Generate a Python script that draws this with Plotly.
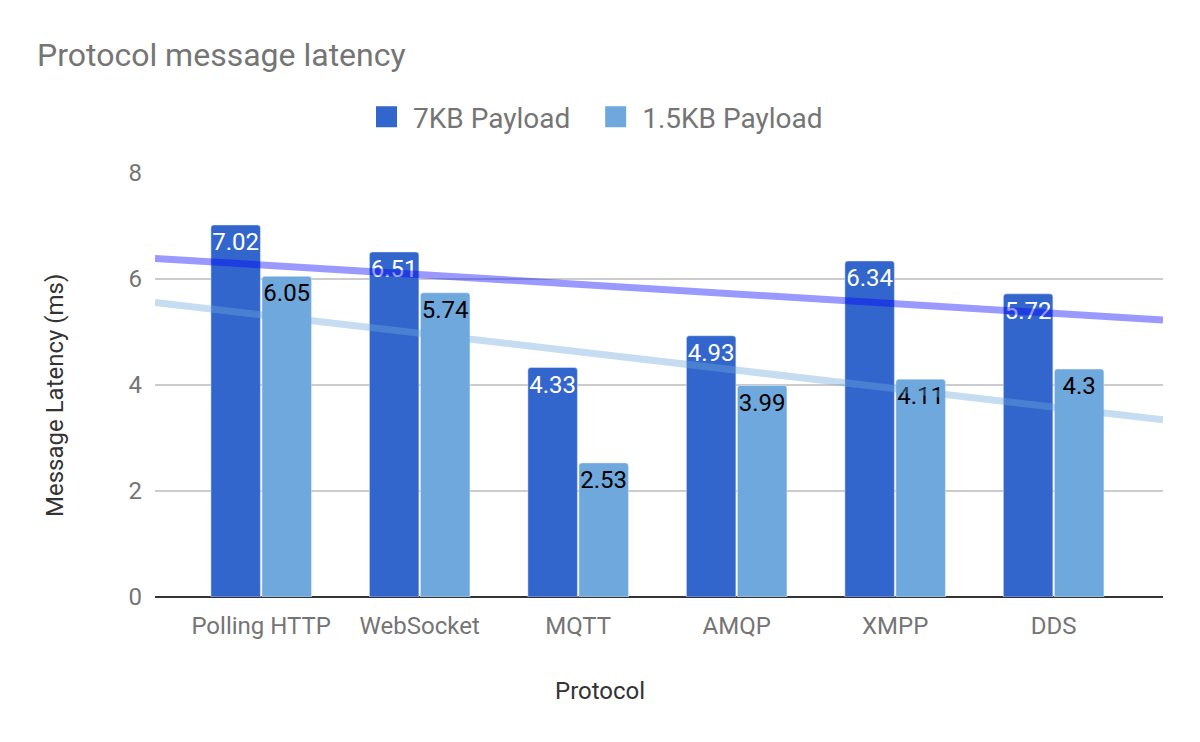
import numpy as np
import plotly.graph_objects as go

protocols = ["Polling HTTP", "WebSocket", "MQTT", "AMQP", "XMPP", "DDS"]
payload_7kb = [7.02, 6.51, 4.33, 4.93, 6.34, 5.72]
payload_15kb = [6.05, 5.74, 2.53, 3.99, 4.11, 4.3]
y_ticks = [0, 2, 4, 6, 8]
series_names = ["7KB Payload", "1.5KB Payload"]

c_dark = "#3366cc"
c_light = "#6fa8dc"
font = "Roboto"

xpos = list(range(len(protocols)))
x_range = [-0.67, len(protocols) - 1 + 0.69]

fig = go.Figure()
fig.add_trace(go.Bar(
    x=xpos, y=payload_7kb, name=series_names[0], marker_color=c_dark,
    text=[f"{v:g}" for v in payload_7kb], textposition="inside",
    insidetextanchor="end", textangle=0, constraintext="none",
    textfont=dict(family=font, size=24, color="white"), showlegend=False,
))
fig.add_trace(go.Bar(
    x=xpos, y=payload_15kb, name=series_names[1], marker_color=c_light,
    text=[f"{v:g}" for v in payload_15kb], textposition="inside",
    insidetextanchor="end", textangle=0, constraintext="none",
    textfont=dict(family=font, size=24, color="black"), showlegend=False,
))

# linear trendlines across the full plot width
for vals, col in [(payload_7kb, "rgba(0,0,255,0.4)"), (payload_15kb, "rgba(111,168,220,0.4)")]:
    m, b = np.polyfit(xpos, vals, 1)
    xe = np.array(x_range)
    fig.add_trace(go.Scatter(x=xe, y=m * xe + b, mode="lines",
                             line=dict(color=col, width=7), showlegend=False,
                             hoverinfo="skip"))

# legend entries (trailing non-breaking spaces widen the gap between items)
for nm, col, pad in [(series_names[0], c_dark, "\u00a0\u00a0"), (series_names[1], c_light, "")]:
    fig.add_trace(go.Scatter(x=[None], y=[None], mode="markers", name=nm + pad,
                             marker=dict(symbol="square", size=16, color=col,
                                         line=dict(color=col, width=5))))

fig.update_layout(
    width=1200, height=742,
    margin=dict(l=155, r=37, t=173, b=145),
    paper_bgcolor="white", plot_bgcolor="white",
    font=dict(family=font, color="#757575"),
    title=dict(text="Protocol message latency", x=37 / 1200, xanchor="left",
               y=1 - 55 / 742, yanchor="middle", yref="container",
               font=dict(family=font, size=32, color="#757575")),
    legend=dict(orientation="h", x=360 / 1200, xanchor="left", xref="container",
                y=1 - 117 / 742, yanchor="middle", yref="container",
                font=dict(family=font, size=28, color="#757575"),
                itemwidth=43, tracegroupgap=0),
    barmode="group", bargap=0.356, bargroupgap=0.03, barcornerradius=3,
    xaxis=dict(range=x_range, tickvals=xpos, ticktext=protocols,
               showgrid=False, ticks="", ticklabelstandoff=12,
               tickfont=dict(family=font, size=24, color="#757575"),
               showline=False, zeroline=False),
    yaxis=dict(range=[0, 8], tickvals=y_ticks, showgrid=True, gridcolor="#cccccc",
               gridwidth=1.5, zeroline=True, zerolinecolor="#333333", zerolinewidth=2,
               tickfont=dict(family=font, size=24, color="#757575"),
               ticklabelstandoff=12, ticks=""),
    annotations=[
        dict(text="Protocol", xref="paper", yref="paper",
             x=(600 - 155) / 1008, y=-(691 - 597) / 424, xanchor="center", yanchor="middle",
             showarrow=False, font=dict(family=font, size=24, color="#333333")),
        dict(text="Message Latency (ms)", xref="paper", yref="paper", textangle=-90,
             x=-(155 - 55) / 1008, y=(597 - 396) / 424, xanchor="center", yanchor="middle",
             showarrow=False, font=dict(family=font, size=24, color="#333333")),
    ],
)

fig.write_html("out.html")
